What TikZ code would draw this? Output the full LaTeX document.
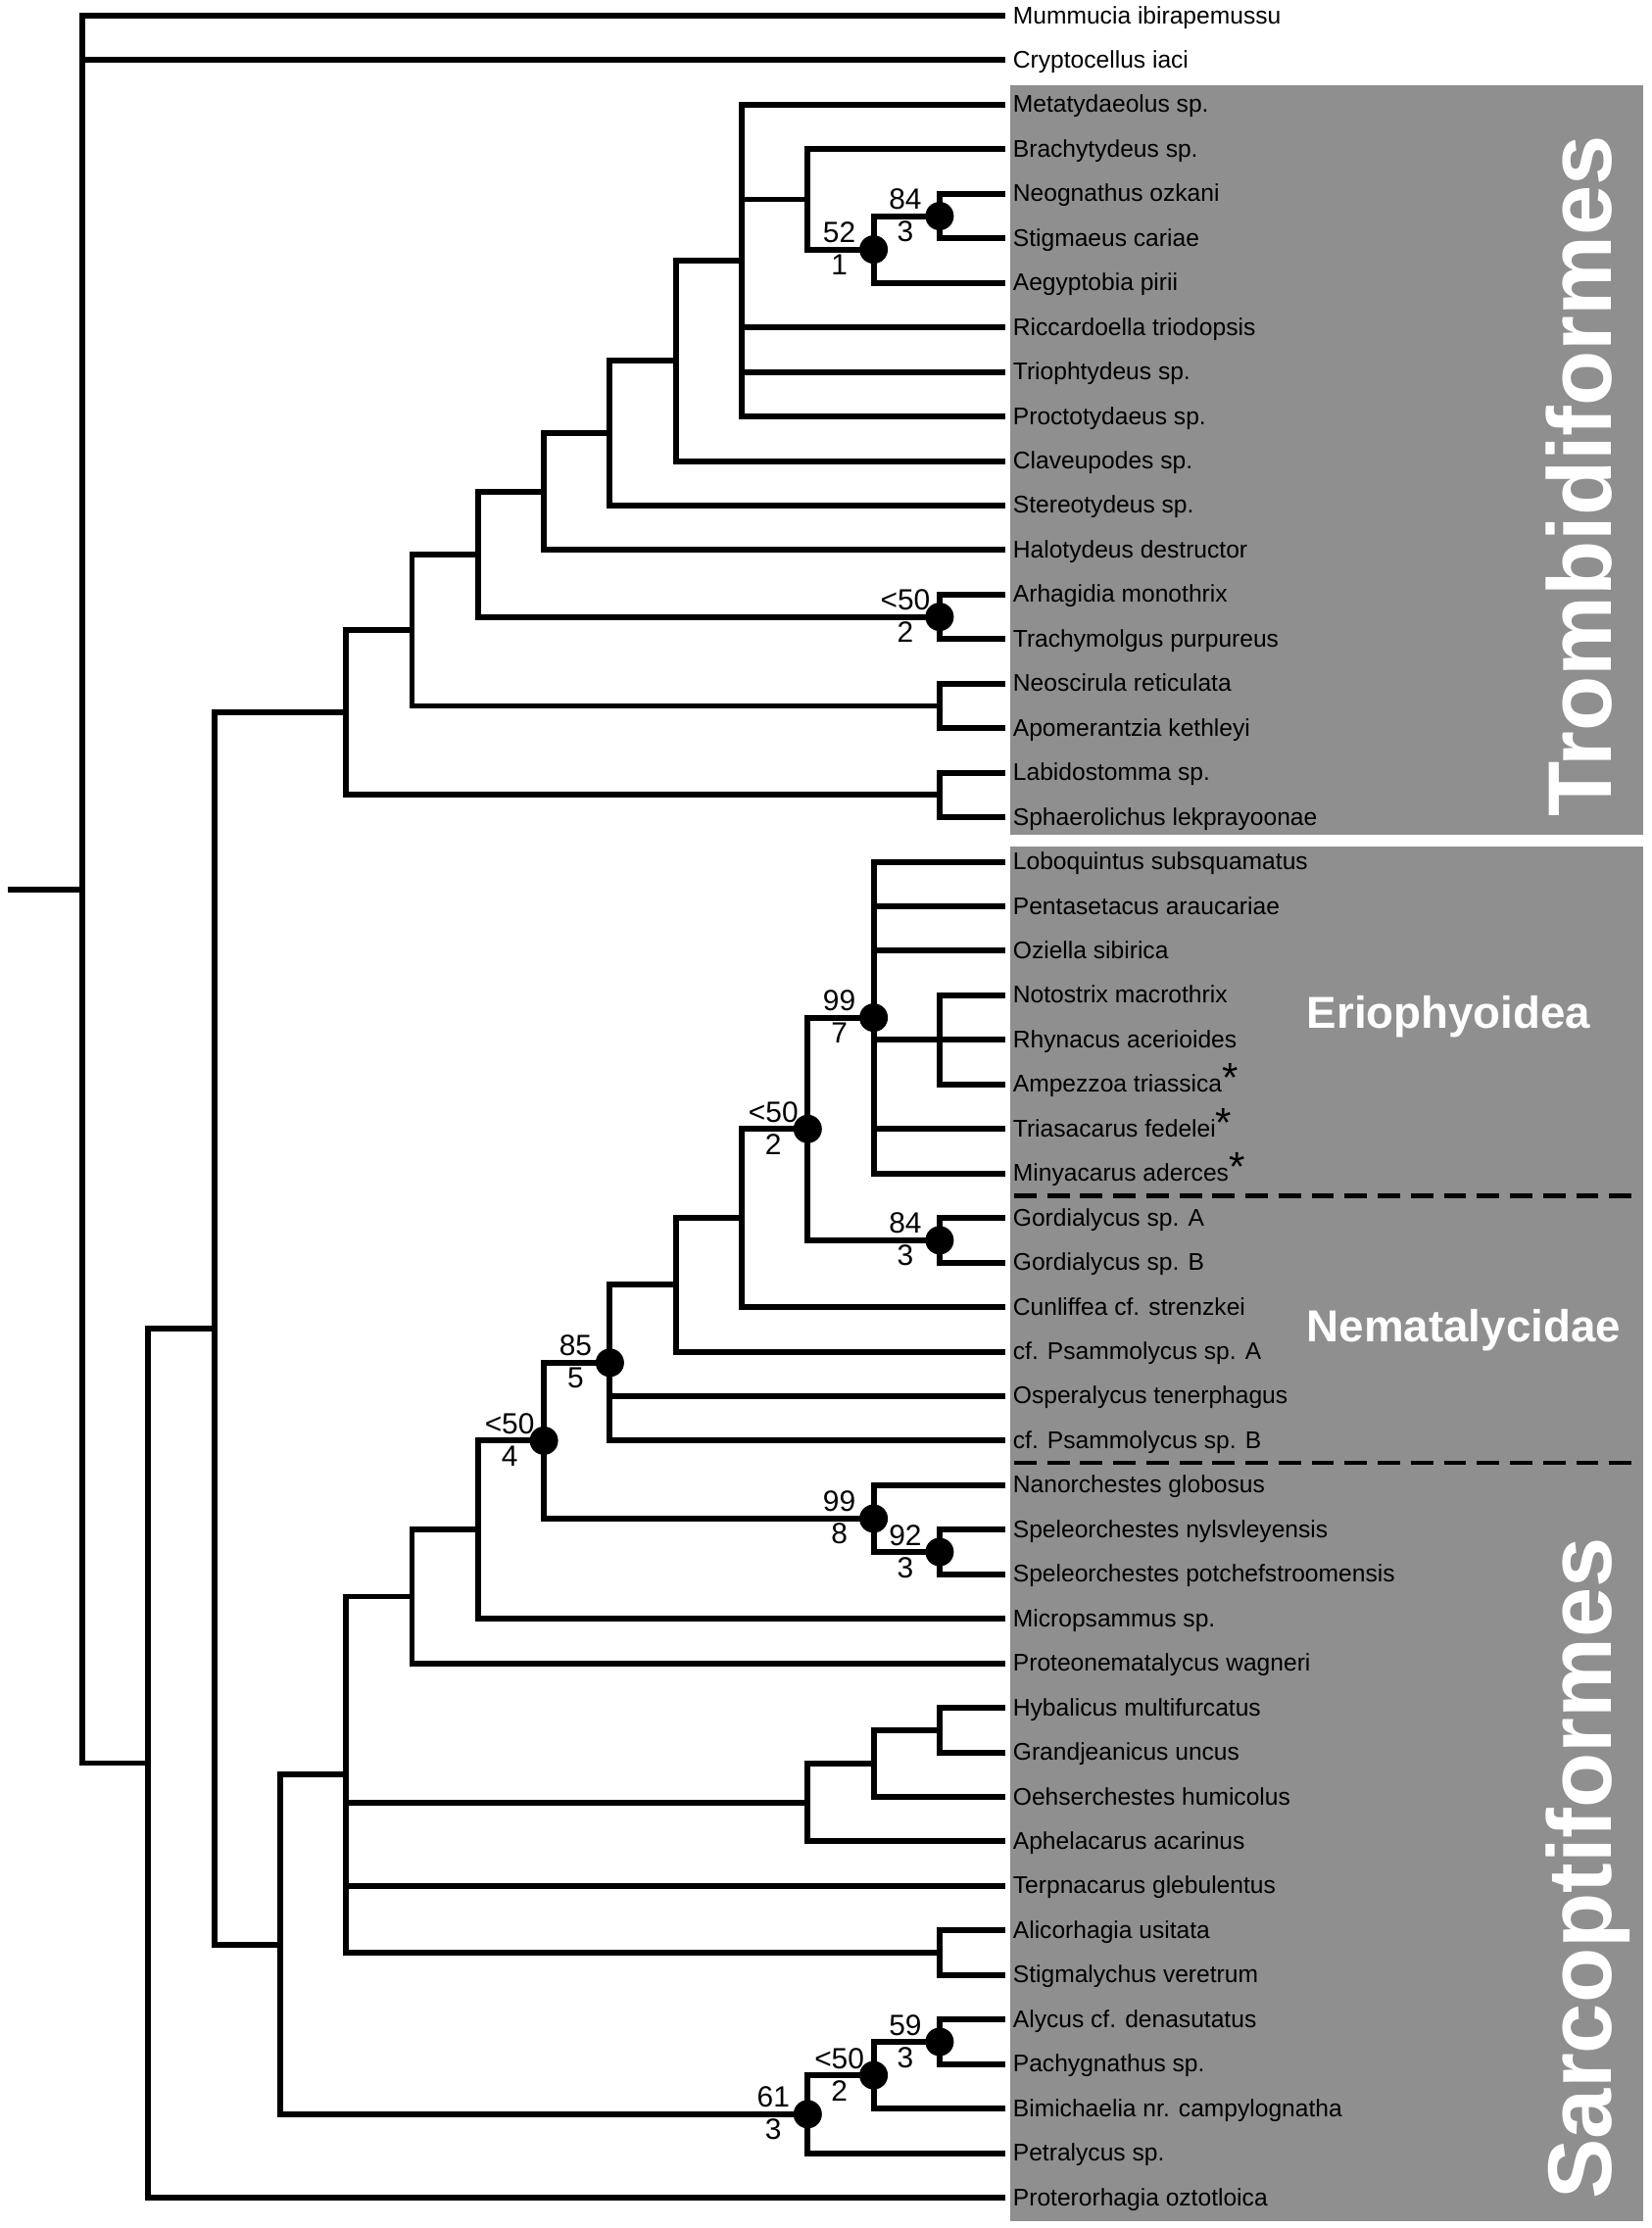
\documentclass[tikz,border=0pt]{standalone}
\usepackage{fontspec}
\setmainfont{Liberation Sans}
\definecolor{cladegray}{RGB}{143,143,143}
\newcommand\fossil{\raisebox{0pt}{\fontsize{12}{12}\selectfont *}}
\tikzset{
  branch/.style={line width=1.7pt},
  taxon/.style={anchor=base west, inner sep=0pt, xshift=0.07cm, yshift=-0.08cm, font=\fontsize{7}{8}\selectfont},
  bullet/.style={circle, fill=black, inner sep=0pt, minimum size=0.29cm},
  bsup/.style={anchor=base, inner sep=0pt, font=\fontsize{8.5}{10}\selectfont},
  clade/.style={text=white, font=\fontsize{26.2}{30}\selectfont\bfseries, rotate=90, anchor=base, inner sep=0pt},
  family/.style={text=white, font=\fontsize{13}{15}\selectfont\bfseries, anchor=base, inner sep=0pt},
  separator/.style={line width=1.2pt, dash pattern=on 6.5pt off 3.1pt}
}
\begin{document}
\begin{tikzpicture}[x=0.673cm, y=-0.4545cm]
\useasboundingbox (-1.248,-0.352) rectangle (23.789,49.681);
\fill[cladegray] (14.07,1.556) rectangle (23.67,18.40);
\fill[cladegray] (14.07,18.66) rectangle (23.67,49.53);
\draw[separator] (14.13,26.5) -- (23.6,26.5);
\draw[separator] (14.13,32.5) -- (23.6,32.5);

\foreach \taxname [count=\r from 0] in {Mummucia ibirapemussu, Cryptocellus iaci,
  Metatydaeolus sp., Brachytydeus sp., Neognathus ozkani, Stigmaeus cariae,
  Aegyptobia pirii, Riccardoella triodopsis, Triophtydeus sp., Proctotydaeus sp.,
  Claveupodes sp., Stereotydeus sp., Halotydeus destructor, Arhagidia monothrix,
  Trachymolgus purpureus, Neoscirula reticulata, Apomerantzia kethleyi,
  Labidostomma sp., Sphaerolichus lekprayoonae, Loboquintus subsquamatus,
  Pentasetacus araucariae, Oziella sibirica, Notostrix macrothrix,
  Rhynacus acerioides, {Ampezzoa triassica\fossil}, {Triasacarus fedelei\fossil},
  {Minyacarus aderces\fossil}, Gordialycus sp. A, Gordialycus sp. B,
  Cunliffea cf. strenzkei, cf. Psammolycus sp. A, Osperalycus tenerphagus,
  cf. Psammolycus sp. B, Nanorchestes globosus, Speleorchestes nylsvleyensis,
  Speleorchestes potchefstroomensis, Micropsammus sp., Proteonematalycus wagneri,
  Hybalicus multifurcatus, Grandjeanicus uncus, Oehserchestes humicolus,
  Aphelacarus acarinus, Terpnacarus glebulentus, Alicorhagia usitata,
  Stigmalychus veretrum, Alycus cf. denasutatus, Pachygnathus sp.,
  Bimichaelia nr. campylognatha, Petralycus sp., Proterorhagia oztotloica}{
  \coordinate (l\r) at (14,\r);
  \node[taxon] (n\r) at (l\r) {\taxname};
}

\coordinate (stub) at (-1.13,19.6201);
\coordinate (root) at (0,19.6201);
\coordinate (ac) at (1,39.2402);
\coordinate (cc) at (2,29.4805);
\coordinate (tr) at (4,15.6484);
\coordinate (t1) at (5,13.7969);
\coordinate (t2) at (6,12.0938);
\coordinate (t3) at (7,10.6875);
\coordinate (t4) at (8,9.375);
\coordinate (t5) at (9,7.75);
\coordinate (t6) at (10,5.5);
\coordinate (t7) at (11,4.125);
\coordinate (t8) at (12,5.25);
\coordinate (t9) at (13,4.5);
\coordinate (arh) at (13,13.5);
\coordinate (neo) at (13,15.5);
\coordinate (lab) at (13,17.5);
\coordinate (sa) at (3,43.3125);
\coordinate (s1) at (4,39.5);
\coordinate (s2) at (5,35.5);
\coordinate (s3) at (6,34);
\coordinate (s4) at (7,32);
\coordinate (s5) at (8,30.25);
\coordinate (s6) at (9,28.5);
\coordinate (s7) at (10,27);
\coordinate (e1) at (11,25);
\coordinate (e2) at (12,22.5);
\coordinate (not) at (13,23);
\coordinate (gor) at (13,27.5);
\coordinate (n1) at (12,33.75);
\coordinate (n2) at (13,34.5);
\coordinate (h1) at (11,40.125);
\coordinate (h2) at (12,39.25);
\coordinate (h3) at (13,38.5);
\coordinate (ali) at (13,43.5);
\coordinate (a1) at (11,47.125);
\coordinate (a2) at (12,46.25);
\coordinate (a3) at (13,45.5);

\draw[branch] (stub) -- (root);
\foreach \p/\c in {root/l0, root/l1, root/ac, ac/cc, ac/l49, cc/tr, cc/sa,
  tr/t1, tr/lab, t1/t2, t1/neo, t2/t3, t2/arh, t3/t4, t3/l12, t4/t5, t4/l11,
  t5/t6, t5/l10, t6/l2, t6/t7, t6/l7, t6/l8, t6/l9, t7/l3, t7/t8, t8/t9, t8/l6,
  t9/l4, t9/l5, arh/l13, arh/l14, neo/l15, neo/l16, lab/l17, lab/l18,
  sa/s1, sa/a1, s1/s2, s1/h1, s1/l42, s1/ali, s2/s3, s2/l37, s3/s4, s3/l36,
  s4/s5, s4/n1, s5/s6, s5/l31, s5/l32, s6/s7, s6/l30, s7/e1, s7/l29,
  e1/e2, e1/gor, e2/l19, e2/l20, e2/l21, e2/not, e2/l25, e2/l26,
  not/l22, not/l23, not/l24, gor/l27, gor/l28, n1/l33, n1/n2, n2/l34, n2/l35,
  h1/h2, h1/l41, h2/h3, h2/l40, h3/l38, h3/l39, ali/l43, ali/l44,
  a1/a2, a1/l48, a2/a3, a2/l47, a3/l45, a3/l46}
  \draw[branch] (\p) |- (\c);

\foreach \p/\up/\down in {t9/84/3, t8/52/1, arh/<50/2, e2/99/7, e1/<50/2,
  gor/84/3, s5/85/5, s4/<50/4, n1/99/8, n2/92/3, a3/59/3, a2/<50/2, a1/61/3}{
  \node[bullet] (b\p) at (\p) {};
  \node[bsup] (u\p) at ([shift={(-0.35cm,0.07cm)}]\p) {\up};
  \node[bsup] (d\p) at ([shift={(-0.35cm,-0.26cm)}]\p) {\down};
}

\node[clade] (trom) at (23.18,10.34) {Trombidiformes};
\node[clade] (sarc) at (23.18,41.6) {Sarcoptiformes};
\node[family] (erio) at (20.72,22.73) {Eriophyoidea};
\node[family] (nema) at (20.95,29.77) {Nematalycidae};
\end{tikzpicture}
\end{document}
